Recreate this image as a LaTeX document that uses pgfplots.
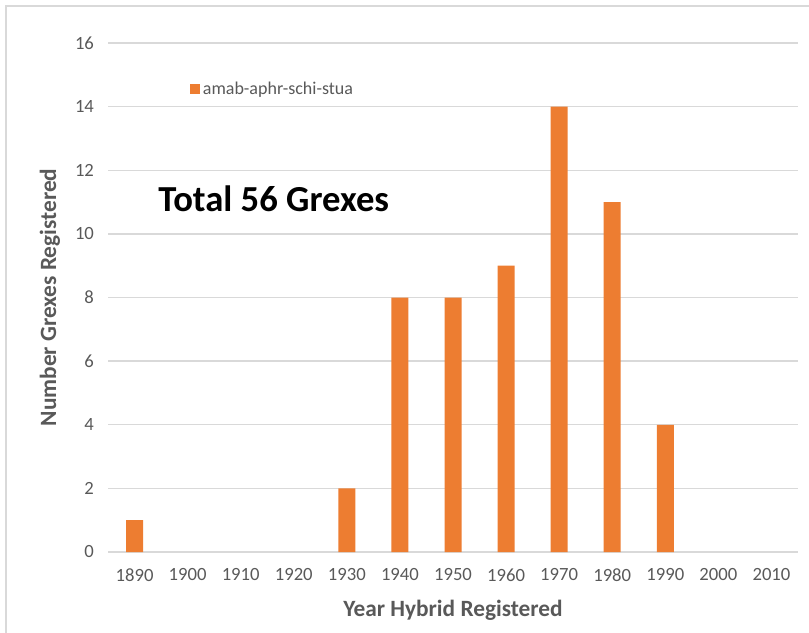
\documentclass[border=0pt]{standalone}
\usepackage{fontspec}
\setmainfont{Carlito}
\usepackage{pgfplots}
\pgfplotsset{compat=1.18}
\definecolor{barc}{HTML}{ED7D31}
\definecolor{txt}{HTML}{595959}
\definecolor{gridc}{HTML}{D9D9D9}
\begin{document}
\begin{tikzpicture}[x=0.75pt,y=0.75pt]
\useasboundingbox (0,0) rectangle (809,632);
\draw[gridc, line width=1.5pt] (6,-5) -- (6,626) -- (815,626);
\begin{axis}[
  at={(81pt,60pt)}, anchor=south west, scale only axis,
  width=517.5pt, height=381.75pt,
  xmin=-0.5, xmax=12.5, ymin=0, ymax=16,
  ytick={0,2,...,16},
  xtick={0,...,12},
  xticklabels={1890,1900,1910,1920,1930,1940,1950,1960,1970,1980,1990,2000,2010},
  ybar, bar width=12.75pt,
  axis line style={draw=none}, major tick length=0pt,
  ymajorgrids, grid style={gridc, line width=1pt},
  tick label style={font=\fontsize{14}{16}\selectfont, text=txt},
  xticklabel style={yshift=-9pt},
  yticklabel style={xshift=-7pt},
  /pgf/number format/assume math mode=true,
  xlabel={Year Hybrid Registered},
  ylabel={Number Grexes Registered},
  label style={font=\bfseries\fontsize{17.5}{20}\selectfont, text=txt},
  xlabel style={at={(axis description cs:0.5,-0.114)}, anchor=center},
  ylabel style={at={(axis description cs:-0.084,0.5)}, anchor=center},
  legend style={at={(rel axis cs:0.1188,0.9096)}, anchor=west, draw=none, fill=none,
    inner sep=0pt, font=\fontsize{13.5}{15}\selectfont, text=txt},
  legend image code/.code={\fill[barc] (0pt,-3.75pt) rectangle (7.5pt,3.75pt);},
]
\addplot[fill=barc, draw=none] coordinates {(0,1) (4,2) (5,8) (6,8) (7,9) (8,14) (9,11) (10,4)};
\addlegendentry{amab-aphr-schi-stua}
\end{axis}
\node[anchor=west, inner sep=0pt, font=\bfseries\fontsize{27.5}{30}\selectfont] at (158,433) {Total 56 Grexes};
\end{tikzpicture}
\end{document}
